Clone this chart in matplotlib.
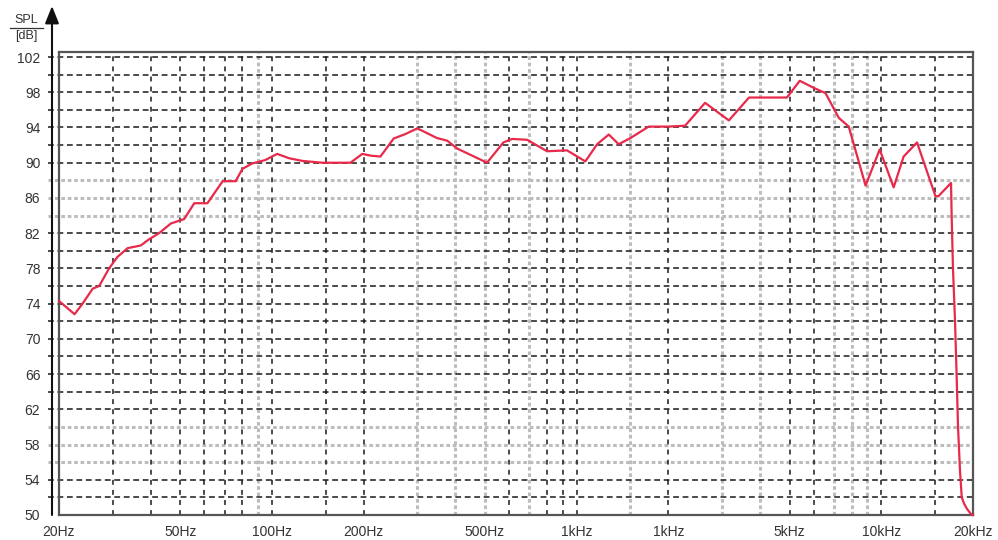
import numpy as np
import matplotlib.pyplot as plt
from matplotlib.lines import Line2D

freq_hz = [20, 22.5, 23.9, 25.8, 27.1, 29.2, 31.1, 33.6, 37.1, 39.5, 42.6, 46.6,
           51.5, 55.6, 61.4, 68.9, 76, 80, 86, 95, 104, 114, 126, 146, 170, 181,
           198, 211, 227, 251, 274, 300, 348, 376, 406, 508, 575, 614, 688, 800,
           930, 1068, 1168, 1275, 1374, 1502, 1724, 2000, 2270, 2640, 3160, 3680,
           4900, 5400, 6000, 6560, 7250, 7820, 8880, 9880, 10980, 11840, 13100,
           15060, 15400, 16940, 17020, 17190, 17460, 17690, 17860, 18130, 18370,
           18690, 19110, 19700, 20000]
spl_db = [74.3, 72.8, 74.0, 75.7, 76.0, 78.0, 79.3, 80.3, 80.6, 81.3, 82.0, 83.1,
          83.6, 85.4, 85.4, 87.9, 87.9, 89.3, 89.9, 90.3, 91.0, 90.5, 90.2, 90.0,
          90.0, 90.0, 91.0, 90.8, 90.7, 92.75, 93.25, 93.9, 92.8, 92.5, 91.6, 90.0,
          92.3, 92.7, 92.6, 91.3, 91.4, 90.15, 92.1, 93.2, 92.1, 92.8, 94.1, 94.1,
          94.2, 96.8, 94.8, 97.4, 97.4, 99.3, 98.5, 97.9, 95.1, 94.1, 87.4, 91.5,
          87.2, 90.7, 92.3, 86.2, 86.2, 87.7, 84.0, 78.0, 72.0, 65.3, 60.0, 55.0,
          52.0, 51.3, 50.7, 50.1, 50.0]

# grid positions
vlines_black = [30, 40, 50, 60, 70, 80, 100, 150, 200, 600, 800, 900, 1000,
                2000, 5000, 6000, 10000, 15000]
vlines_gray = [90, 300, 400, 500, 700, 1500, 3000, 4000, 7000, 8000, 9000]
hlines_gray = [56, 58, 60, 84, 86, 88]
hlines_black = [v for v in range(52, 103, 2) if v not in hlines_gray]

xtick_pos = [20, 50, 100, 200, 500, 1000, 2000, 5000, 10000, 20000]
xtick_labels = ['20Hz', '50Hz', '100Hz', '200Hz', '500Hz', '1kHz', '1kHz',
                '5kHz', '10kHz', '20kHz']
ytick_pos = list(range(50, 103, 4))

W, H = 998, 540
fig = plt.figure(figsize=(W / 100, H / 100), dpi=100)
plt.rcParams['font.family'] = ['Liberation Sans', 'DejaVu Sans']

# axes box in pixel terms
left, right, top, bottom = 59, 973, 52, 515
ax = fig.add_axes([left / W, 1 - bottom / H, (right - left) / W, (bottom - top) / H])
ax.set_xscale('log')
ax.set_xlim(20, 20000)
ax.set_ylim(50, 102.57)

# grid
for v in vlines_gray:
    ax.axvline(v, color='#bdbdbd', lw=2.2, dashes=(1.2, 0.9), zorder=1)
for h in hlines_gray:
    ax.axhline(h, xmin=-0.012, color='#bdbdbd', lw=2.2, dashes=(1.2, 0.9),
               zorder=1, clip_on=False)
for v in vlines_black:
    ax.axvline(v, color='#1a1a1a', lw=1.1, dashes=(3.2, 3.4), zorder=2)
for h in hlines_black:
    ax.axhline(h, xmin=-0.012, color='#1a1a1a', lw=1.1, dashes=(3.8, 2.4),
               zorder=2, clip_on=False)

# curve
ax.plot(freq_hz, spl_db, color='#e8294a', lw=1.6, zorder=5, clip_on=False)

# box
for s in ax.spines.values():
    s.set_color('#555555')
    s.set_linewidth(1.6)

ax.set_xticks(xtick_pos)
ax.set_xticklabels(xtick_labels)
ax.xaxis.set_minor_locator(plt.NullLocator())
ax.set_yticks(ytick_pos)
ax.set_yticklabels([str(v) for v in ytick_pos])
ax.tick_params(axis='x', length=0, pad=7, labelsize=10, labelcolor='#333333')
ax.tick_params(axis='y', length=0, pad=13.5, labelsize=10, labelcolor='#333333')

# vertical axis with arrow
ax_x = 52 / W
ax.annotate('', xy=(ax_x, 1 - 6 / H), xytext=(ax_x, 1 - bottom / H),
            xycoords='figure fraction', textcoords='figure fraction',
            arrowprops=dict(arrowstyle='-|>,head_length=0.75,head_width=0.3',
                            color='#111111', lw=1.5, mutation_scale=14,
                            shrinkA=0, shrinkB=0))

# unit label
fig.text(26 / W, 1 - 20 / H, 'SPL', ha='center', va='center', fontsize=9,
         color='#333333')
fig.add_artist(Line2D([10 / W, 43 / W], [1 - 28 / H, 1 - 28 / H],
                      color='#333333', lw=0.9))
fig.text(26 / W, 1 - 36 / H, '[dB]', ha='center', va='center', fontsize=9,
         color='#333333')

fig.savefig('out.png', dpi=100)
